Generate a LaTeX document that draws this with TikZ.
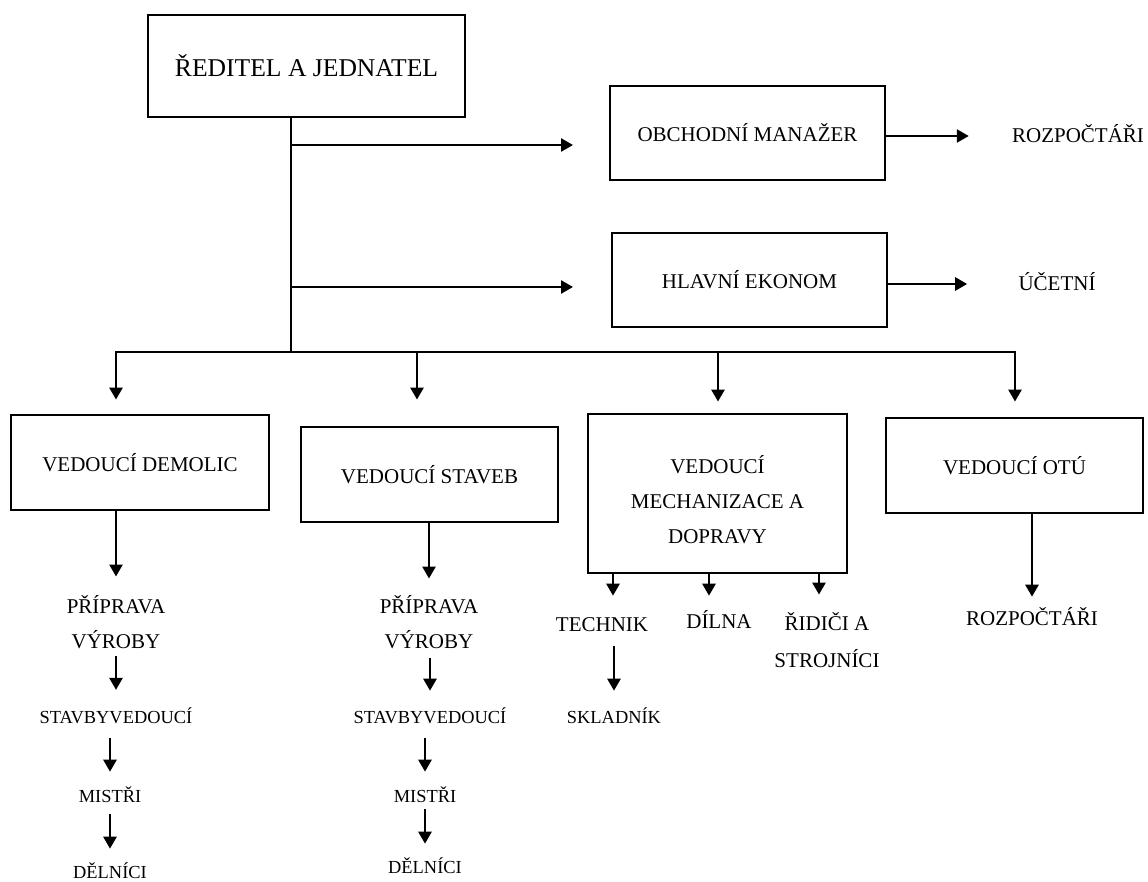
\documentclass[tikz,border=0pt]{standalone}
\usepackage{fontspec}
\setmainfont{Liberation Serif}
\usetikzlibrary{arrows.meta}

\begin{document}
\begin{tikzpicture}[x=0.5pt,y=-0.5pt,line width=1.3pt,>={Triangle[length=6pt,width=6.5pt]},
  box/.style={draw,line width=1.4pt,align=center,font=\fontsize{10.5}{17.5}\selectfont},
  boss/.style={box,font=\fontsize{12.8}{15}\selectfont},
  lbl/.style={inner sep=0pt,align=center,font=\fontsize{10.5}{17.5}\selectfont},
  one/.style={lbl,text height=8pt,text depth=1pt},
  sml/.style={inner sep=0pt,font=\fontsize{9.2}{11}\selectfont,text height=7pt,text depth=0.8pt}]
  \useasboundingbox (0,0) rectangle (1148,882);
  \node[boss,minimum width=158.5pt,minimum height=51pt] (dir) at (306.5,66) {ŘEDITEL A JEDNATEL};
  \node[box,minimum width=137.5pt,minimum height=47pt] (obch) at (747.5,133) {OBCHODNÍ MANAŽER};
  \node[box,minimum width=137.5pt,minimum height=47pt] (ekon) at (749.5,280) {HLAVNÍ EKONOM};
  \node[one] (rozp1) at (1078,136) {ROZPOČTÁŘI};
  \node[one] (ucet) at (1057,284) {ÚČETNÍ};
  \node[box,minimum width=129pt,minimum height=47.5pt] (dem) at (140,462.5) {VEDOUCÍ DEMOLIC};
  \node[box,minimum width=128.5pt,minimum height=47.5pt] (stav) at (429.5,474.5) {VEDOUCÍ STAVEB};
  \node[box,minimum width=129.5pt,minimum height=79.5pt,text height=50.5pt] (mech) at (717.5,493.5) {VEDOUCÍ\\MECHANIZACE A\\DOPRAVY};
  \node[box,minimum width=128.5pt,minimum height=47.5pt] (otu) at (1014.5,465.5) {VEDOUCÍ OTÚ};
  \node[lbl] (prip1) at (116,622.5) {PŘÍPRAVA\\VÝROBY};
  \node[sml] (stv1) at (116,717) {STAVBYVEDOUCÍ};
  \node[sml] (mis1) at (110,796) {MISTŘI};
  \node[sml] (del1) at (110,872) {DĚLNÍCI};
  \node[lbl] (prip2) at (429,622.5) {PŘÍPRAVA\\VÝROBY};
  \node[sml] (stv2) at (430,717) {STAVBYVEDOUCÍ};
  \node[sml] (mis2) at (425,796) {MISTŘI};
  \node[sml] (del2) at (425,867) {DĚLNÍCI};
  \node[one] (tech) at (602,625) {TECHNIK};
  \node[one] (diln) at (719,622) {DÍLNA};
  \node[lbl,font=\fontsize{10.5}{18.5}\selectfont] (ridi) at (827,640.5) {ŘIDIČI A\\STROJNÍCI};
  \node[sml] (sklad) at (614,717) {SKLADNÍK};
  \node[one] (rozp2) at (1032,618) {ROZPOČTÁŘI};
  \coordinate (jn) at (291,352);
  \coordinate (e1) at (573,145); \coordinate (e2) at (573,287);
  \coordinate (d1) at (116,352); \coordinate (d2) at (417,352); \coordinate (d3) at (718,352); \coordinate (d4) at (1015,352);
  \draw (jn |- dir.south)--(jn);
  \draw[->] (jn |- e1)--(e1); \draw[->] (jn |- e2)--(e2);
  \draw[->,shorten >=21pt] (obch.east |- rozp1)--(rozp1.west);
  \draw[->,shorten >=25pt] (ekon.east |- ucet)--(ucet.west);
  \draw[->,shorten >=7pt] (jn)--(d1)--(d1 |- dem.north);
  \draw[->,shorten >=7.5pt] (jn)--(d4)--(d4 |- otu.north);
  \draw[->,shorten >=13pt] (d2)--(d2 |- stav.north);
  \draw[->,shorten >=5.5pt] (d3)--(d3 |- mech.north);
  \draw[->,shorten >=9pt] (dem.south -| prip1)--(prip1.north);
  \draw[->,shorten <=3pt,shorten >=9pt] (prip1.south)--(stv1.north);
  \draw[->,shorten <=6pt,shorten >=7.6pt] (stv1.south -| mis1)--(mis1.north);
  \draw[->,shorten <=4.6pt,shorten >=7.1pt] (mis1.south)--(del1.north);
  \draw[->,shorten >=8pt] (stav.south -| prip2)--(prip2.north);
  \draw[->,shorten <=4pt,shorten >=8.6pt] (prip2.south -| stv2)--(stv2.north);
  \draw[->,shorten <=6pt,shorten >=7.6pt] (stv2.south -| mis2)--(mis2.north);
  \draw[->,shorten <=2pt,shorten >=7.1pt] (mis2.south)--(del2.north);
  \draw[->,shorten >=9.5pt] ([xshift=5.5pt]mech.south -| tech)--([xshift=5.5pt]tech.north);
  \draw[->,shorten >=8pt] ([xshift=-5pt]mech.south -| diln)--([xshift=-5pt]diln.north);
  \draw[->,shorten >=8.5pt] ([xshift=-4pt]mech.south -| ridi)--([xshift=-4pt]ridi.north);
  \draw[->,shorten <=5.5pt,shorten >=8.6pt] (tech.south -| sklad)--(sklad.north);
  \draw[->,shorten >=5.5pt] (otu.south -| rozp2)--(rozp2.north);
\end{tikzpicture}
\end{document}
